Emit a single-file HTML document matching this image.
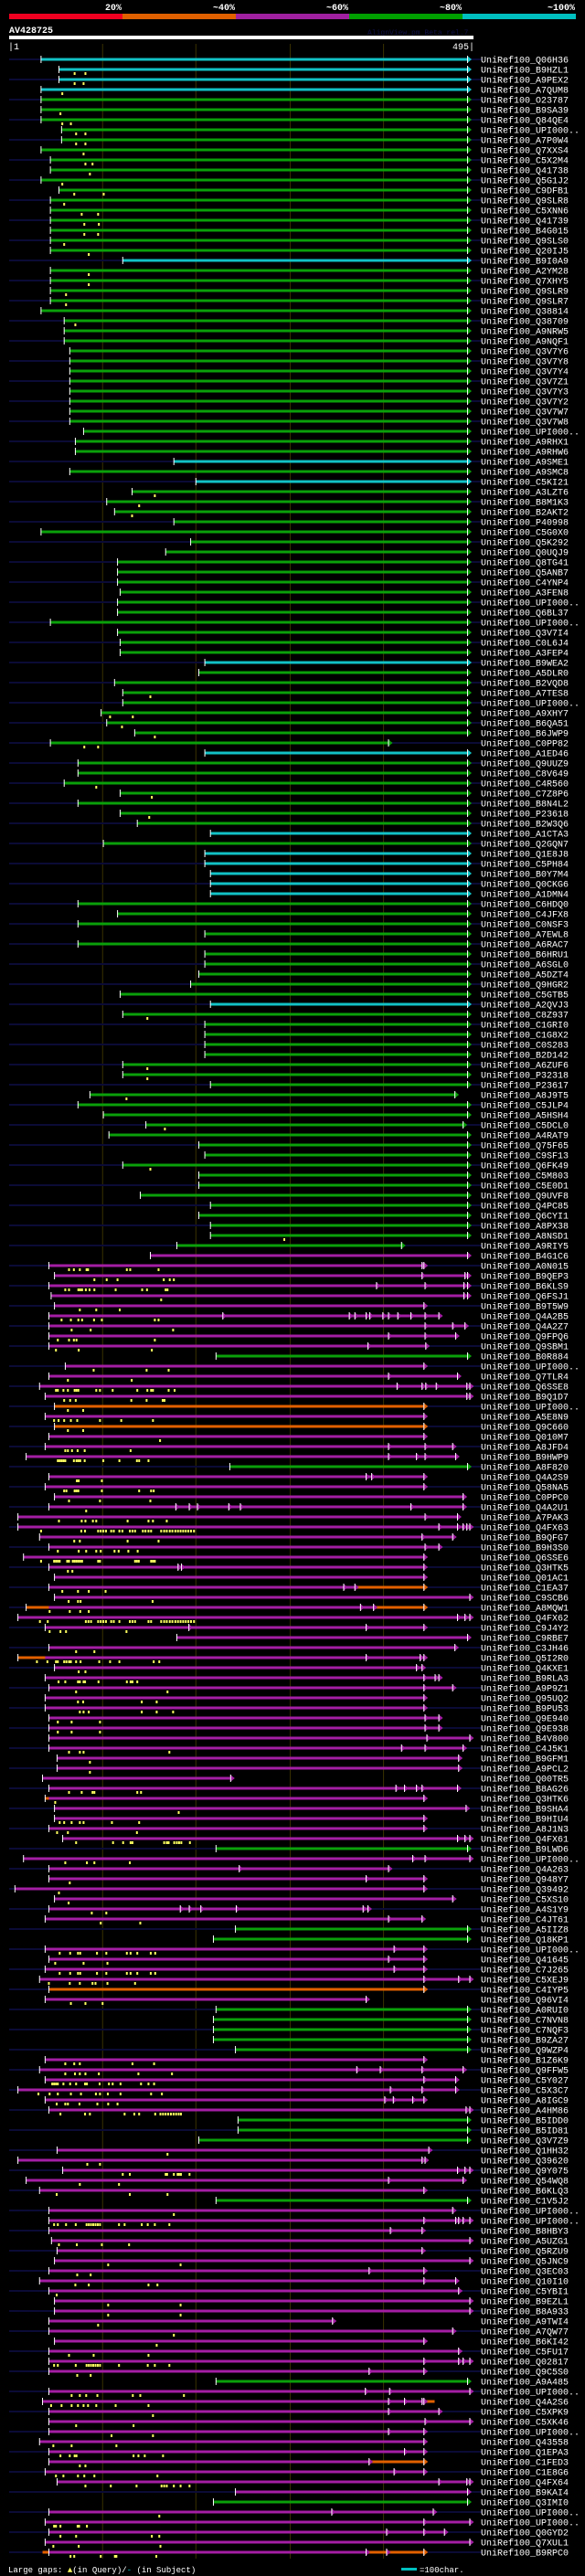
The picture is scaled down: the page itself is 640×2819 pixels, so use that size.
<!DOCTYPE html>
<html><head><meta charset="utf-8">
<style>
html,body{margin:0;padding:0;background:#000;}
svg{display:block;}
text{font-family:"Liberation Mono",monospace;}
</style></head>
<body>
<svg id="chart" width="640" height="2819" viewBox="0 0 640 2819" xmlns="http://www.w3.org/2000/svg">
<rect x="0" y="0" width="640" height="2819" fill="#000"/>
<g>
<rect x="10" y="15" width="124" height="6" fill="#f00020"/>
<rect x="134" y="15" width="124" height="6" fill="#e06000"/>
<rect x="258" y="15" width="124" height="6" fill="#a020a0"/>
<rect x="382" y="15" width="124" height="6" fill="#00a000"/>
<rect x="506" y="15" width="124" height="6" fill="#00c0c0"/>
<text x="133" y="11" fill="#fff" font-size="10" font-weight="bold" text-anchor="end">20%</text>
<text x="257" y="11" fill="#fff" font-size="10" font-weight="bold" text-anchor="end">~40%</text>
<text x="381" y="11" fill="#fff" font-size="10" font-weight="bold" text-anchor="end">~60%</text>
<text x="505" y="11" fill="#fff" font-size="10" font-weight="bold" text-anchor="end">~80%</text>
<text x="629" y="11" fill="#fff" font-size="10" font-weight="bold" text-anchor="end">~100%</text>
</g>
<text x="10" y="36" fill="#fff" font-size="10" font-weight="bold">AV428725</text>
<text x="402" y="38" fill="#101048" font-size="8">AlignView.pm Beta rel.7</text>
<rect x="10" y="39" width="508" height="4" fill="#fff"/>
<text x="9" y="54" fill="#fff" font-size="10">|1</text>
<text x="519" y="54" fill="#fff" font-size="10" text-anchor="end">495|</text>
<g id="grid"></g>
<g id="rows"></g>
<g>
<text x="9" y="2815" fill="#fff" font-size="9">Large gaps: <tspan fill="#ffff60">▲</tspan>(in Query)/<tspan fill="#00c0c0">-</tspan> (in Subject)</text>
<rect x="439" y="2810" width="17" height="3" fill="#00c0c0"/>
<text x="459" y="2815" fill="#fff" font-size="9">=100char.</text>
</g>
</svg>
<script>
// query-scale positions (0..1268 scale units)
const gridPositions = [275, 525, 778, 1028];
const rowSpecs = [
"Q06H36|c|110|1252||",
"B9HZL1|c|158|1252||200,229",
"A9PEX2|c|158|1252||200,224",
"A7QUM8|c|110|1252||167",
"O23787|g|110|1252||",
"B9SA39|g|110|1252||162",
"Q84QE4|g|110|1252||167,190",
"UPI000..|g|165|1252||204,229",
"A7P0W4|g|165|1252||204,229",
"Q7XXS4|g|110|1252||224",
"C5X2M4|g|135|1252||229,248",
"Q41738|g|135|1252||241",
"Q5G1J2|g|110|1252||167",
"C9DFB1|g|158|1252||199,278",
"Q9SLR8|g|135|1252||172",
"C5XNN6|g|135|1252||219,263",
"Q41739|g|135|1252||226,265",
"B4G015|g|135|1252||226,263",
"Q9SLS0|g|135|1252||172",
"Q20IJ5|g|135|1252||238",
"B9I0A9|c|329|1252||",
"A2YM28|g|135|1252||238",
"Q7XHY5|g|135|1252||238",
"Q9SLR9|g|135|1252||177",
"Q9SLR7|g|135|1252||177",
"Q38814|g|110|1252||",
"Q38709|g|172|1252||202",
"A9NRW5|g|172|1252||",
"A9NQF1|g|172|1252||",
"Q3V7Y6|g|187|1252||",
"Q3V7Y8|g|187|1252||",
"Q3V7Y4|g|187|1252||",
"Q3V7Z1|g|187|1252||",
"Q3V7Y3|g|187|1252||",
"Q3V7Y2|g|187|1252||",
"Q3V7W7|g|187|1252||",
"Q3V7W8|g|187|1252||",
"UPI000..|g|224|1252||",
"A9RHX1|g|202|1252||",
"A9RHW6|g|202|1252||",
"A9SME1|c|466|1252||",
"A9SMC8|g|187|1252||",
"C5KI21|c|525|1252||",
"A3LZT6|g|354|1252||415",
"B8M1K3|g|286|1252||373",
"B2AKT2|g|307|1252||354",
"P40998|g|466|1252||",
"C5G0X0|g|110|1252||",
"Q5K292|g|511|1252||",
"Q0UQJ9|g|444|1252||",
"Q8TG41|g|315|1252||",
"Q5ANB7|g|315|1252||",
"C4YNP4|g|315|1252||",
"A3FEN8|g|322|1252||",
"UPI000..|g|315|1252||",
"Q6BL37|g|315|1252||",
"UPI000..|g|135|1252||",
"Q3V7I4|g|315|1252||",
"C0L6J4|g|322|1252||",
"A3FEP4|g|322|1252||",
"B9WEA2|c|549|1252||",
"A5DLR0|g|533|1252||",
"B2VQD8|g|307|1252||",
"A7TES8|g|329|1252||403",
"UPI000..|g|329|1252||",
"A9XHY7|g|271|1252||295,356",
"B6QA51|g|286|1252||327",
"B6JWP9|g|361|1252||415",
"C0PP82|g|135|1040||226,263",
"A1ED46|c|549|1252||",
"Q9UUZ9|g|209|1252||",
"C8V649|g|209|1252||",
"C4R560|g|172|1252||258",
"C7Z8P6|g|322|1252||407",
"B8N4L2|g|209|1252||",
"P23618|g|322|1252||400",
"B2W3Q6|g|368|1252||",
"A1CTA3|c|564|1252||",
"Q2GQN7|g|277|1252||",
"Q1E8J8|c|549|1252||",
"C5PH84|c|549|1252||",
"B0Y7M4|c|564|1252||",
"Q0CKG6|c|564|1252||",
"A1DMN4|c|564|1252||",
"C6HDQ0|g|209|1252||",
"C4JFX8|g|315|1252||",
"C0NSF3|g|209|1252||",
"A7EWL8|g|549|1252||",
"A6RAC7|g|209|1252||",
"B6HRU1|g|549|1252||",
"A6SGL0|g|549|1252||",
"A5DZT4|g|533|1252||",
"Q9HGR2|g|511|1252||",
"C5GTB5|g|322|1252||",
"A2QVJ3|c|564|1252||",
"C8Z937|g|329|1252||395",
"C1GRI0|g|549|1252||",
"C1G8X2|g|549|1252||",
"C0S283|g|549|1252||",
"B2D142|g|549|1252||",
"A6ZUF6|g|329|1252||395",
"P32318|g|329|1252||395",
"P23617|g|564|1252||",
"A8J9T5|g|241|1218||339",
"C5JLP4|g|209|1252||",
"A5HSH4|g|277|1252||",
"C5DCL0|g|391|1240||442",
"A4RAT9|g|292|1252||",
"Q75F65|g|533|1252||",
"C9SF13|g|549|1252||",
"Q6FK49|g|329|1252||403",
"C5M803|g|533|1252||",
"C5E0D1|g|533|1252||",
"Q9UVF8|g|376|1252||",
"Q4PC85|g|564|1252||",
"Q6CYI1|g|533|1252||",
"A8PX38|g|564|1252||",
"A8NSD1|g|564|1252||762",
"A9RIY5|g|474|1075||",
"B4G1C6|p|403|1252||",
"A0N015|p|131|1135|1130|185,198,214,232,236,340,349,425",
"B9QEP3|p|146|1252|1130,1245|253,286,315,439,455,466",
"B6KLS9|p|131|1252|1008,1138,1242|175,185,210,215,220,230,240,253,310,381,394,444,449",
"Q6FSJ1|p|137|1252|1242|432",
"B9T5W9|p|146|1135||214,258,321",
"Q4A2B5|p|131|1175|596,935,950,980,990,1025,1040,1065,1100,1138|165,190,210,220,252,273,415,425",
"Q4A2Z7|p|131|1245|1138,1212|192,243,464",
"Q9FPQ6|p|131|1220|1040,1138|155,185,198,205,415",
"Q9SBM1|p|131|1140|985|150,211,407",
"B0R884|g|579|1252||",
"UPI000..|p|175|1135||251,393,452",
"Q7TLR4|p|131|1225|1040|182,353",
"Q6SSE8|p|106|1258|1063,1130,1140,1168,1250|150,155,170,182,200,205,210,258,268,302,368,395,405,410,452,468",
"B9Q1D7|p|121|1258|1250|172,188,203,352,393,436,441",
"UPI000..|o|146|1135||182,223",
"A5E8N9|p|121|1135||145,157,172,190,207,268,325,410",
"Q9C660|o|146|1135||182,223",
"Q010M7|p|131|1135||429",
"A8JFD4|p|121|1212|1040,1138|175,182,193,208,227,350",
"B9HWP9|p|70|1220|1040,1115,1138|155,160,165,170,175,198,205,210,215,227,277,320,367,373,398",
"A8F820|g|616|1252||",
"Q4A2S9|p|131|1135|980,995|206,211,273",
"Q58NA5|p|121|1135||172,178,200,205,210,273,373,405,412",
"C0PPC0|p|146|1240||185,268,403",
"Q4A2U1|p|131|1240|470,506,528,612,643,1100|231",
"A7PAK3|p|48|1225|1138|158,219,229,249,258,342,398,410,447",
"Q4FX63|p|48|1258|1175,1225,1240,1250|110,218,228,263,270,277,284,298,305,320,328,348,355,362,383,390,398,405,432,440,447,455,462,470,477,484,491,498,505,512,520",
"B9QFG7|p|106|1212|1130|199,214,342,425",
"B9H3S0|p|131|1175|1138|155,211,231,258,270,307,318,344,369",
"Q6SSE6|p|63|1135||110,145,150,155,160,180,185,195,200,205,210,215,220,263,268,362,367,372,405,410,415",
"Q3HTK5|p|131|1135|476,485|182,194",
"Q01AC1|p|146|1135||",
"C1EA37|p|131|1135|920,950|167,209,238,283|950-1135",
"C9SCB6|p|146|1258||184,209,216,409",
"A8MQW1|p|70|1135|965,1000|133,187,215,238|70-131;1000-1135",
"Q4FX62|p|48|1258|1225,1245|107,128,230,237,244,263,270,277,284,298,305,320,348,355,362,398,405,432,440,447,455,462,470,477,484,491,498,505,512,520",
"C9J4Y2|p|121|1135|505,980|133,162,177,339",
"C9RBE7|p|474|1252||",
"C3JH46|p|131|1218||204,253",
"Q5I2R0|p|48|1135|980,1125|99,127,150,155,172,178,185,190,204,216,266,295,320,412,427|48-121",
"Q4KXE1|p|146|1130|1115|211,229",
"B9RLA3|p|121|1175|1135,1165|157,175,209,214,224,228,264,340,350,355,368",
"A9P9Z1|p|131|1212|1135|204,449",
"Q95UQ2|p|121|1135||209,223,380,420",
"B9PU53|p|121|1135||214,224,238,380,420,464",
"Q9E940|p|131|1175|1138|155,192,268",
"Q9E938|p|131|1175|1138|155,192,268",
"B4V800|p|131|1258|1143|",
"C4J5K1|p|131|1240|1075,1138|185,214,224,454",
"B9GFM1|p|153|1228||241",
"A9PCL2|p|153|1228||241",
"Q00TR5|p|114|617||",
"B8AG26|p|131|1225|1060,1083,1115,1130|185,219,248,253,368,378",
"Q3HTK6|p|121|1135||148|121-131",
"B9SHA4|p|146|1248||479",
"B9HIU4|p|146|1135||160,172,192,214,224,300,373",
"A8J1N3|p|131|1135||153,182,367",
"Q4FX61|p|168|1258|1225,1245|204,303,330,350,355,440,447,452,467,474,480,486,509",
"B9LWD6|g|579|1252||",
"UPI000..|p|63|1258|1105,1138|175,233,253,348",
"Q4A263|p|131|1040|640|",
"Q948Y7|p|131|1135|980|187",
"Q39492|p|40|1135||158",
"C5XS10|p|146|1212||184",
"A4S1Y9|p|131|985|482,506,537,632,972|246,285",
"C4JT61|p|121|1130|1040|270,376",
"A5IIZ8|g|631|1252||",
"Q18KP1|g|572|1252||",
"UPI000..|p|121|1135|1055|160,188,209,215,260,285,340,350,368,404,416",
"Q41645|p|131|1135|1040|148,224,288",
"C7J265|p|121|1135|1055|160,188,209,215,260,285,340,350,368,404,416",
"C5XEJ9|p|106|1258|1135,1228|131,187,214,248,256,288,362",
"C4IYP5|o|131|1135||",
"Q96VI4|p|121|980||190,229,275",
"A0RUI0|g|579|1252||",
"C7NVN8|g|572|1252||",
"C7NQF3|g|572|1252||",
"B9ZA27|g|572|1252||",
"Q9WZP4|g|631|1252||",
"B1Z6K9|p|121|1135||175,199,214,355,413",
"Q9FFW5|p|106|1240|955,1018,1130|175,201,214,229,265,371,461",
"C5Y027|p|121|1220|1135|140,145,150,155,170,188,204,228,233,267,292,302,323,378,398,413",
"C5X3C7|p|48|1220|1045,1130|103,133,155,190,217,257,268,289,323,405,434",
"A8IGC9|p|121|1135|1030,1053,1105|152,175,182,213,261,290,315",
"A4HM86|p|131|1258|1248|162,228,241,334,360,373,416,430,437,444,451,458,465,472,479,485",
"B5IDD0|g|638|1252||",
"B5ID81|g|638|1252||",
"Q3V7Z9|g|533|1252||",
"Q1HH32|p|153|1148||449",
"Q39620|p|48|1138|1130|234,268",
"Q9Y075|p|168|1258|1225,1245|329,348,444,448,466,476,480,485,508",
"Q54WQ8|p|70|1240|1040|214,319",
"B6KLQ3|p|106|1135||152,348,449",
"C1V5J2|g|579|1252||",
"UPI000..|p|131|1212||466",
"UPI000..|p|131|1258|1135,1220,1228,1240|145,155,177,203,232,238,244,250,256,262,268,319,334,380,396,415,454",
"B8HBY3|p|131|1130|1045|",
"A5UZG1|p|138|1258||158,206,273,346",
"Q5RZU9|p|153|1130||",
"Q5JNC9|p|146|1258||290,484",
"Q3EC03|p|131|1135|988|207,243",
"Q10I10|p|106|1220|1135|202,238,398,422",
"C5YBI1|p|131|1228||152",
"B9EZL1|p|146|1258||290,484",
"B8A933|p|146|1258||290,484",
"A9TWI4|p|131|890||263",
"A7QW77|p|131|1212||466",
"B6KI42|p|146|1135||420",
"C5FU17|p|131|1228||185,251,398",
"Q02817|p|131|1258|1135,1228,1240|145,155,203,232,238,244,250,256,262,268,319,396,415,454",
"Q9C5S0|p|131|1135|988|207,243",
"A9A485|g|579|1252||",
"UPI000..|p|131|1258|978,1043|192,214,231,261,356,376,493",
"Q4A2S6|p|114|1135|1040,1083,1130|137,165,192,209,224,236,258,310,398|1135-1165",
"C5XPK9|p|131|1175|1040|410",
"C5XK46|p|131|1258|1138|204,358",
"UPI000..|p|131|1135|1040|299,410",
"Q43558|p|106|1135||143,192,312",
"Q1EPA3|p|131|1135|1083|162,187,200,205,358,371,388,437",
"C1FED3|p|131|1135|988|214,229|988-1135",
"C1E8G6|p|121|1135|1055|150,170,209,226,253,422",
"Q4FX64|p|153|1258|1175,1250|229,297,366,433,440,447,466,484,508",
"B9KAI4|p|631|1252||",
"Q3IMI0|g|572|1252||",
"UPI000..|p|131|1160|888|427",
"UPI000..|p|121|1258|1135|145,150,162,208,212,233",
"Q0GYD2|p|131|1190|1035,1135|162,204,407,427",
"Q7XUL1|p|121|1258||143,211,430",
"B9RPC0|p|131|1135|980,1035|189,199,270,308,312,419|114-131;985-1135"
];
const rowNames = rowSpecs.map(s => s.split("|")[0]);
const rowColors = rowSpecs.map(s => s.split("|")[1]);
const rowStarts = rowSpecs.map(s => +s.split("|")[2]);
const rowEnds = rowSpecs.map(s => +s.split("|")[3]);
const rowArrows = rowSpecs.map(s => (s.split("|")[4] || "").split(",").filter(v => v).map(Number));
const rowGapMarks = rowSpecs.map(s => (s.split("|")[5] || "").split(",").filter(v => v).map(Number));
const rowOrange = rowSpecs.map(s => (s.split("|")[6] || "").split(";").filter(v => v).map(p => p.split("-").map(Number)));

const palette = {c: "#12c2c6", g: "#0aa00a", p: "#a41ea4", o: "#e26000"};
const NS = "http://www.w3.org/2000/svg";
const xScale = v => v / 2.45;
const yScale = i => 65 + i * 11;

function mk(tag, attrs, parent) {
  const el = document.createElementNS(NS, tag);
  for (const k in attrs) el.setAttribute(k, attrs[k]);
  parent.appendChild(el);
  return el;
}

const grid = document.getElementById("grid");
gridPositions.forEach(p => {
  const l = mk("line", {x1: xScale(p), x2: xScale(p), y1: 48, y2: 2800, stroke: "#3a3200", "stroke-width": 1}, grid);
  
  
});

const rowsG = document.getElementById("rows");
function arrow(g, xz, y, color) {
  const x = xScale(xz);
  const t = mk("polygon", {points: `${x},${y-4} ${x+5},${y} ${x},${y+4}`, fill: color}, g);
  
  
  mk("line", {x1: x+0.5, x2: x+0.5, y1: y-4, y2: y+4, stroke: "#fff", "stroke-width": 1}, g);
}
rowNames.forEach((name, i) => {
  const y = yScale(i);
  const g = mk("g", {}, rowsG);
  
  
  if (i % 2 === 0) {
    const st = mk("rect", {x: 10, y: y - 1, width: 517, height: 2, fill: "#0b0b36"}, g);
    
    
  }
  const col = palette[rowColors[i]];
  const x0 = xScale(rowStarts[i]), x1 = xScale(rowEnds[i]);
  const bar = mk("rect", {x: x0, y: y - 1.5, width: x1 - x0, height: 3, fill: col}, g);
  
  
  rowOrange[i].forEach(([a, b]) => {
    const o = mk("rect", {x: xScale(a), y: y - 1.5, width: xScale(b) - xScale(a), height: 3, fill: palette.o}, g);
    
    
  });
  mk("line", {x1: x0, x2: x0, y1: y - 4, y2: y + 4, stroke: "#fff", "stroke-width": 1}, g);
  rowGapMarks[i].forEach(d => {
    const dx = xScale(d);
    const m = mk("rect", {x: dx - 1, y: y + 3, width: 2, height: 3, fill: "#ffff60"}, g);
    
    
  });
  rowArrows[i].forEach(a => arrow(g, a, y, col));
  const endCol = rowOrange[i].some(([a, b]) => b === rowEnds[i]) ? palette.o : col;
  arrow(g, rowEnds[i], y, endCol);
  const t = mk("text", {x: 526, y: y + 3.5, fill: "#fff", "font-size": 10}, g);
  t.textContent = "UniRef100_" + name;
  
  
});
</script>
</body></html>
